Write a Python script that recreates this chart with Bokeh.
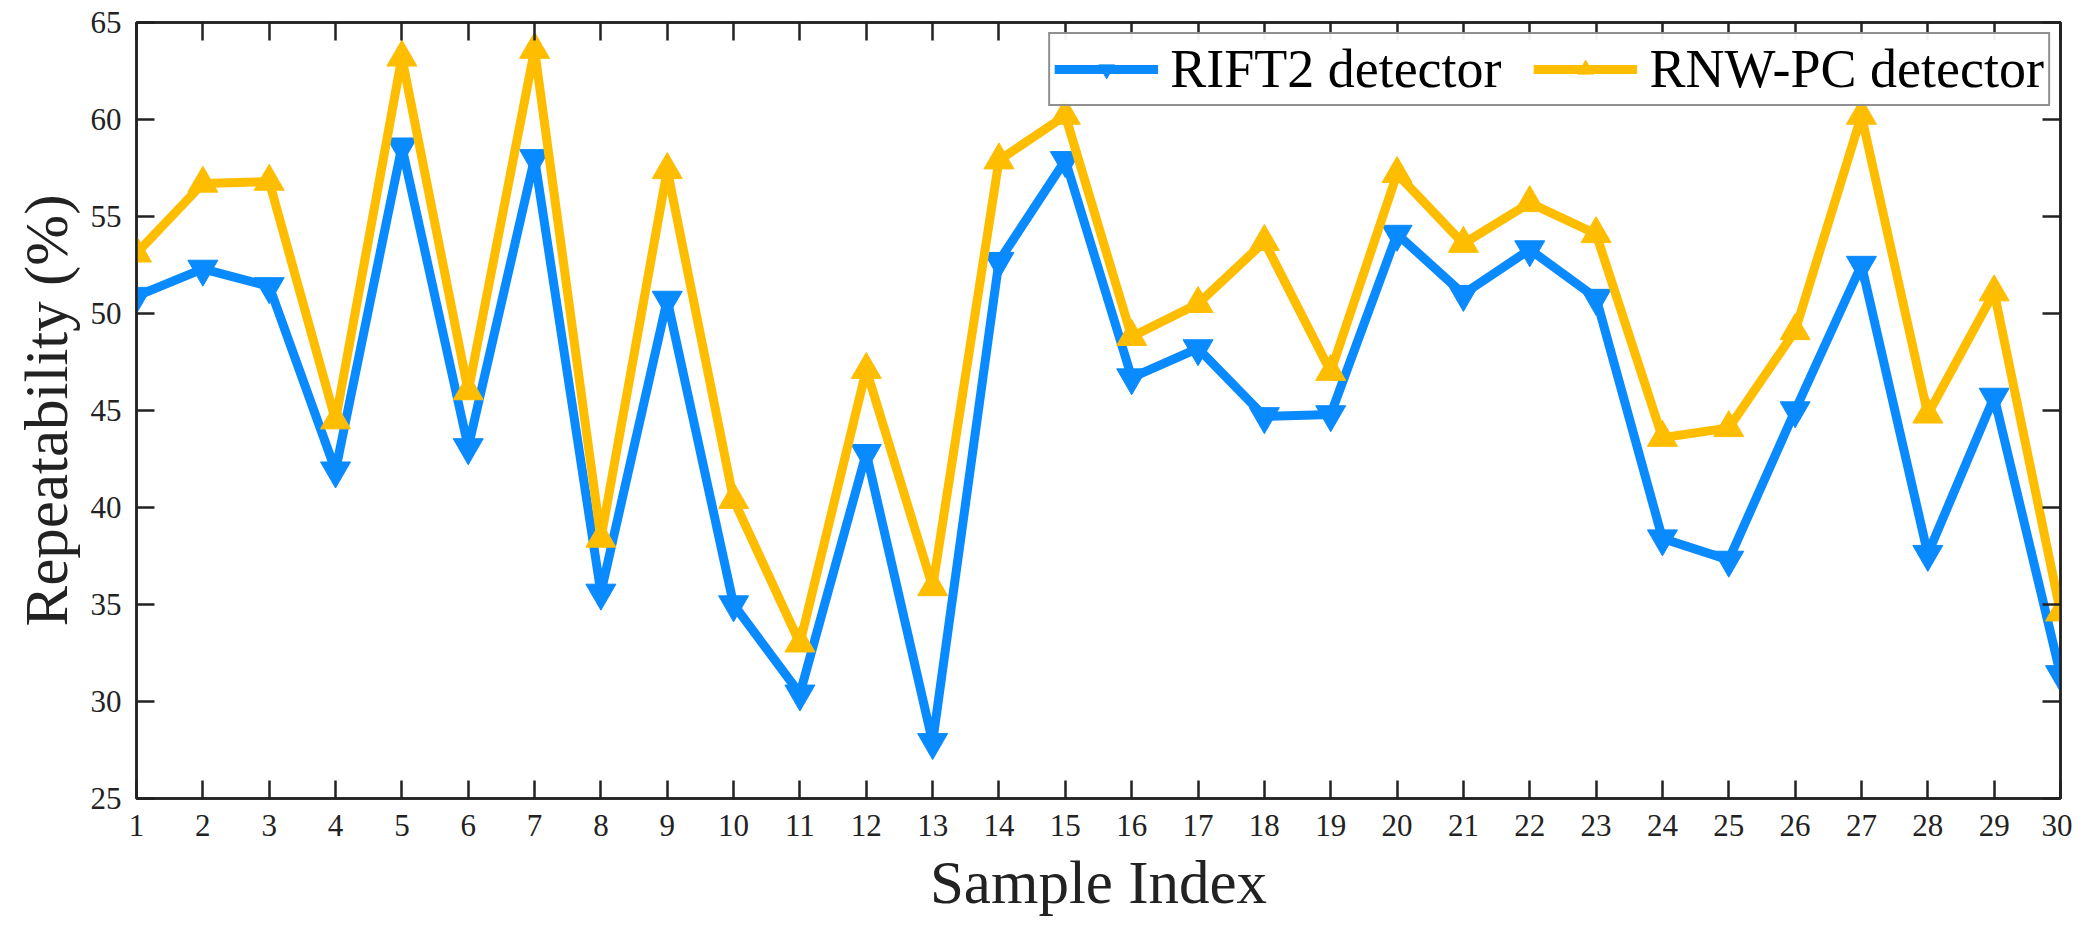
from bokeh.plotting import figure
from bokeh.models import LinearAxis, Range1d, FixedTicker, Legend
from bokeh.embed import file_html
from bokeh.resources import INLINE

# sample indices and repeatability (%)
sample_index = list(range(1, 31))
rift2 = [50.9, 52.3, 51.4, 41.9, 58.6, 43.1, 58.0, 35.6, 50.7, 35.0,
         30.4, 42.8, 27.9, 52.7, 57.9, 46.7, 48.2, 44.7, 44.8, 54.1,
         51.0, 53.3, 50.8, 38.4, 37.3, 45.0, 52.5, 37.6, 45.7, 31.4]
rnw_pc = [53.1, 56.7, 56.8, 44.5, 63.2, 46.0, 63.6, 38.4, 57.4, 40.4,
          33.0, 47.1, 35.9, 57.9, 60.2, 48.8, 50.5, 53.7, 47.0, 57.2,
          53.6, 55.7, 54.1, 43.6, 44.1, 49.1, 60.2, 44.8, 51.1, 34.6]
y_ticks = [25, 30, 35, 40, 45, 50, 55, 60, 65]

blue = "#0A8AFF"
amber = "#FFBD00"
serif = "Liberation Serif"

p = figure(width=2072, height=919, output_backend="svg", toolbar_location=None,
           x_range=Range1d(1, 30), y_range=Range1d(25, 65),
           min_border_left=136, min_border_right=12, min_border_top=22, min_border_bottom=121)
p.grid.visible = False
p.outline_line_color = "#222222"
p.outline_line_width = 2.5

def style_axis(ax, ticks, labels=True):
    ax.ticker = FixedTicker(ticks=ticks)
    ax.axis_line_color = "#222222"
    ax.axis_line_width = 2.5
    ax.major_tick_line_color = "#222222"
    ax.major_tick_line_width = 2.5
    ax.major_tick_in = 18
    ax.major_tick_out = 0
    ax.minor_tick_line_color = None
    if labels:
        ax.major_label_text_font = serif
        ax.major_label_text_font_size = "31px"
        ax.major_label_text_color = "#222222"
    else:
        # box axes: ticks only
        ax.major_label_overrides = {t: "" for t in ticks}
        ax.major_label_standoff = 0

style_axis(p.xaxis[0], sample_index)
style_axis(p.yaxis[0], y_ticks)
p.xaxis.major_label_standoff = 16
p.yaxis.major_label_standoff = 15

p.xaxis.axis_label = "Sample Index"
p.yaxis.axis_label = "Repeatability (%)"
for ax in (p.xaxis[0], p.yaxis[0]):
    ax.axis_label_text_font = serif
    ax.axis_label_text_font_style = "normal"
    ax.axis_label_text_font_size = "61px"
    ax.axis_label_text_color = "#222222"
p.xaxis.axis_label_standoff = 10
p.yaxis.axis_label_standoff = 8

top_axis = LinearAxis()
right_axis = LinearAxis()
style_axis(top_axis, sample_index, labels=False)
style_axis(right_axis, y_ticks, labels=False)
p.add_layout(top_axis, "above")
p.add_layout(right_axis, "right")

l1 = p.line(sample_index, rift2, line_color=blue, line_width=9)
m1 = p.scatter(sample_index, rift2, marker="inverted_triangle", size=30,
               fill_color=blue, line_color=blue)
l2 = p.line(sample_index, rnw_pc, line_color=amber, line_width=9)
m2 = p.scatter(sample_index, rnw_pc, marker="triangle", size=30,
               fill_color=amber, line_color=amber)

legend = Legend(items=[("RIFT2 detector", [l1, m1]), ("RNW-PC detector", [l2, m2])],
                location="top_right", orientation="horizontal")
legend.label_text_font = serif
legend.label_text_font_size = "54px"
legend.label_text_color = "black"
legend.border_line_color = "#222222"
legend.border_line_width = 2.5
legend.margin = 10
legend.padding = 4
legend.spacing = 32
legend.glyph_width = 104
legend.glyph_height = 40
legend.label_standoff = 12
legend.label_height = 40
p.add_layout(legend, "center")

open("out.html", "w").write(file_html(p, INLINE))
